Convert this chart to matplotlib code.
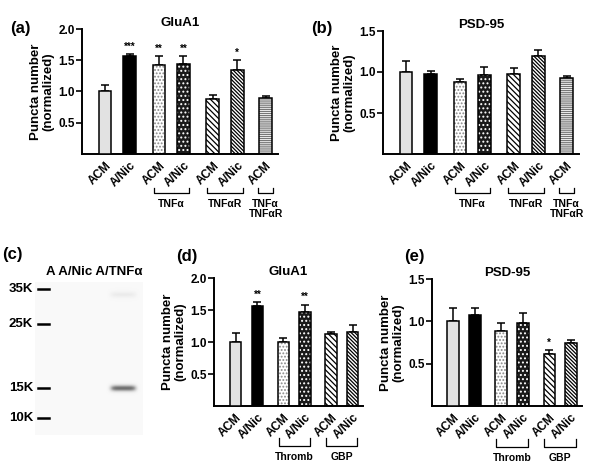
import numpy as np
import matplotlib
matplotlib.use('Agg')
import matplotlib.pyplot as plt
import matplotlib.transforms as mtransforms

plt.rcParams['font.family'] = ['Liberation Sans', 'DejaVu Sans']
plt.rcParams['font.weight'] = 'bold'
plt.rcParams['axes.labelweight'] = 'bold'
plt.rcParams['axes.titleweight'] = 'bold'
plt.rcParams['hatch.linewidth'] = 0.9

W, H = 600, 465

# ---- data ----
labels_ab = ['ACM', 'A/Nic', 'ACM', 'A/Nic', 'ACM', 'A/Nic', 'ACM']
pos_ab = [0, 1, 2.2, 3.2, 4.4, 5.4, 6.55]
glua1_a = [1.00, 1.57, 1.43, 1.44, 0.88, 1.35, 0.90]
glua1_a_err = [0.11, 0.03, 0.14, 0.13, 0.07, 0.15, 0.03]
glua1_a_sig = ['', '***', '**', '**', '', '*', '']
psd95_b = [1.00, 0.98, 0.88, 0.96, 0.98, 1.19, 0.93]
psd95_b_err = [0.14, 0.03, 0.04, 0.10, 0.07, 0.08, 0.02]
groups_ab = [('TNFα', 2.2, 3.2), ('TNFαR', 4.4, 5.4), ('TNFα\nTNFαR', 6.55, 6.55)]

labels_de = ['ACM', 'A/Nic', 'ACM', 'A/Nic', 'ACM', 'A/Nic']
pos_de = [0, 1, 2.2, 3.2, 4.4, 5.4]
glua1_d = [1.00, 1.56, 1.00, 1.47, 1.12, 1.15]
glua1_d_err = [0.14, 0.06, 0.07, 0.11, 0.04, 0.12]
glua1_d_sig = ['', '**', '', '**', '', '']
psd95_e = [1.00, 1.08, 0.88, 0.98, 0.62, 0.74]
psd95_e_err = [0.16, 0.08, 0.10, 0.12, 0.04, 0.04]
psd95_e_sig = ['', '', '', '', '*', '']
groups_de = [('Thromb', 2.2, 3.2), ('GBP', 4.4, 5.4)]

# bar styles: (face, hatch, hatch colour)
style_ab = [('#e2e2e2', None, None), ('black', None, None),
            ('white', '.....', '#888888'), ('#1a1a1a', '....', 'white'),
            ('white', '\\' * 6, 'black'), ('white', '\\' * 9, 'black'),
            ('white', '-' * 8, '#777777')]
style_de = style_ab[:6]

# western blot
lane_names = 'A A/Nic A/TNFα'
marker_kda = ['35K', '25K', '15K', '10K']
marker_y = [289, 324, 388, 418]          # pixel rows of the ladder marks
band_lane_x = [122]                      # band centres (px)
band_y = [[295, 388]]
band_strength = [[0.10, 0.60]]


def add_ax(left, right, top, bottom):
    return fig.add_axes([left / W, 1 - bottom / H, (right - left) / W, (bottom - top) / H])


def bar_panel(ax, pos, vals, errs, labels, styles, ymax, yticks, xlim, title, sig=None):
    for p, v, (fc, hatch, hc) in zip(pos, vals, styles):
        if hatch:
            ax.bar(p, v, width=0.52, color=fc, edgecolor=hc, hatch=hatch, linewidth=0, zorder=2)
            ax.bar(p, v, width=0.52, color='none', edgecolor='black', linewidth=1.1, zorder=3)
        else:
            ax.bar(p, v, width=0.52, color=fc, edgecolor='black', linewidth=1.1, zorder=3)
    ax.errorbar(pos, vals, yerr=[np.zeros(len(errs)), errs], fmt='none', ecolor='black',
                elinewidth=1.1, capsize=3, capthick=1.1, zorder=1)
    if sig:
        for p, v, e, s in zip(pos, vals, errs, sig):
            if s:
                ax.text(p, v + e + 0.02 * ymax, s, ha='center', va='bottom', fontsize=7)
    ax.set_ylim(0, ymax)
    ax.set_xlim(*xlim)
    ax.set_yticks(yticks)
    ax.set_yticklabels([f'{t:.1f}' for t in yticks], fontsize=8.5, fontweight='bold')
    ax.set_xticks(pos)
    ax.set_xticklabels(labels, rotation=45, ha='right', rotation_mode='anchor',
                       fontsize=8.5, fontweight='bold')
    ax.tick_params(axis='x', length=0, pad=4)
    ax.tick_params(axis='y', length=4, width=1.2, pad=1)
    for s in ['top', 'right']:
        ax.spines[s].set_visible(False)
    for s in ['left', 'bottom']:
        ax.spines[s].set_linewidth(1.4)
    ax.set_title(title, fontsize=9.5, fontweight='bold', pad=2)
    ax.set_ylabel('Puncta number\n(normalized)', fontsize=9.5, fontweight='bold', labelpad=3,
                  linespacing=1.0)


def brackets(ax, groups, y_top, y_bot, y_lab, half=0.22):
    tr = mtransforms.blended_transform_factory(ax.transData, ax.transAxes)
    for name, a, b in groups:
        x0 = a - (half if a != b else 0.32)
        x1 = b + (half if a != b else 0.32)
        ax.plot([x0, x0, x1, x1], [y_top, y_bot, y_bot, y_top], color='black', lw=0.9,
                transform=tr, clip_on=False)
        ax.text((x0 + x1) / 2, y_lab, name, ha='center', va='top', fontsize=7.5,
                fontweight='bold', transform=tr, linespacing=1.0)


fig = plt.figure(figsize=(W / 100, H / 100), dpi=100)

# (a)
ax_a = add_ax(82, 278, 29, 154)
bar_panel(ax_a, pos_ab, glua1_a, glua1_a_err, labels_ab, style_ab, 2.0,
          [0.5, 1.0, 1.5, 2.0], (-0.94, 7.06), 'GluA1', glua1_a_sig)
brackets(ax_a, groups_ab, -0.27, -0.31, -0.36)
fig.text(10 / W, 1 - 28 / H, '(a)', fontsize=12, fontweight='bold', va='center')

# (b)
ax_b = add_ax(383, 579, 31, 154)
bar_panel(ax_b, pos_ab, psd95_b, psd95_b_err, labels_ab, style_ab, 1.5,
          [0.5, 1.0, 1.5], (-0.94, 7.06), 'PSD-95')
brackets(ax_b, groups_ab, -0.275, -0.315, -0.365)
fig.text(311 / W, 1 - 28 / H, '(b)', fontsize=12, fontweight='bold', va='center')

# (c) western blot
ax_c = add_ax(35, 142, 282, 435)
rows = np.arange(282, 435)
cols = np.arange(35, 142)
img = np.full((len(rows), len(cols)), 0.05)
for bx, bys, bss in zip(band_lane_x, band_y, band_strength):
    for by, bs in zip(bys, bss):
        img += bs * np.exp(-((cols[None, :] - bx) / 13) ** 6) * np.exp(-((rows[:, None] - by) / 3.2) ** 2)
ax_c.imshow(img, cmap='Greys', vmin=0, vmax=1, aspect='auto',
            extent=(35, 142, 435, 282), interpolation='bilinear')
ax_c.set_xlim(35, 142)
ax_c.set_ylim(435, 282)
ax_c.axis('off')
for lab, my in zip(marker_kda, marker_y):
    fig.lines.append(plt.Line2D([38 / W, 49 / W], [1 - my / H, 1 - my / H],
                                color='black', lw=1.8, transform=fig.transFigure))
    fig.text(33 / W, 1 - my / H, lab, ha='right', va='center', fontsize=9.5, fontweight='bold')
fig.text(46 / W, 1 - 272 / H, lane_names, ha='left', va='center', fontsize=9.5, fontweight='bold')
fig.text(2 / W, 1 - 255 / H, '(c)', fontsize=12, fontweight='bold', va='center')

# (d)
ax_d = add_ax(214, 363, 278, 406)
bar_panel(ax_d, pos_de, glua1_d, glua1_d_err, labels_de, style_de, 2.0,
          [0.5, 1.0, 1.5, 2.0], (-1.0, 5.88), 'GluA1', glua1_d_sig)
brackets(ax_d, groups_de, -0.25, -0.31, -0.36)
fig.text(176 / W, 1 - 256 / H, '(d)', fontsize=12, fontweight='bold', va='center')

# (e)
ax_e = add_ax(432, 582, 279, 406)
bar_panel(ax_e, pos_de, psd95_e, psd95_e_err, labels_de, style_de, 1.5,
          [0.5, 1.0, 1.5], (-0.96, 5.9), 'PSD-95', psd95_e_sig)
brackets(ax_e, groups_de, -0.26, -0.32, -0.37)
fig.text(404 / W, 1 - 256 / H, '(e)', fontsize=12, fontweight='bold', va='center')

fig.savefig('out.png', dpi=100)
